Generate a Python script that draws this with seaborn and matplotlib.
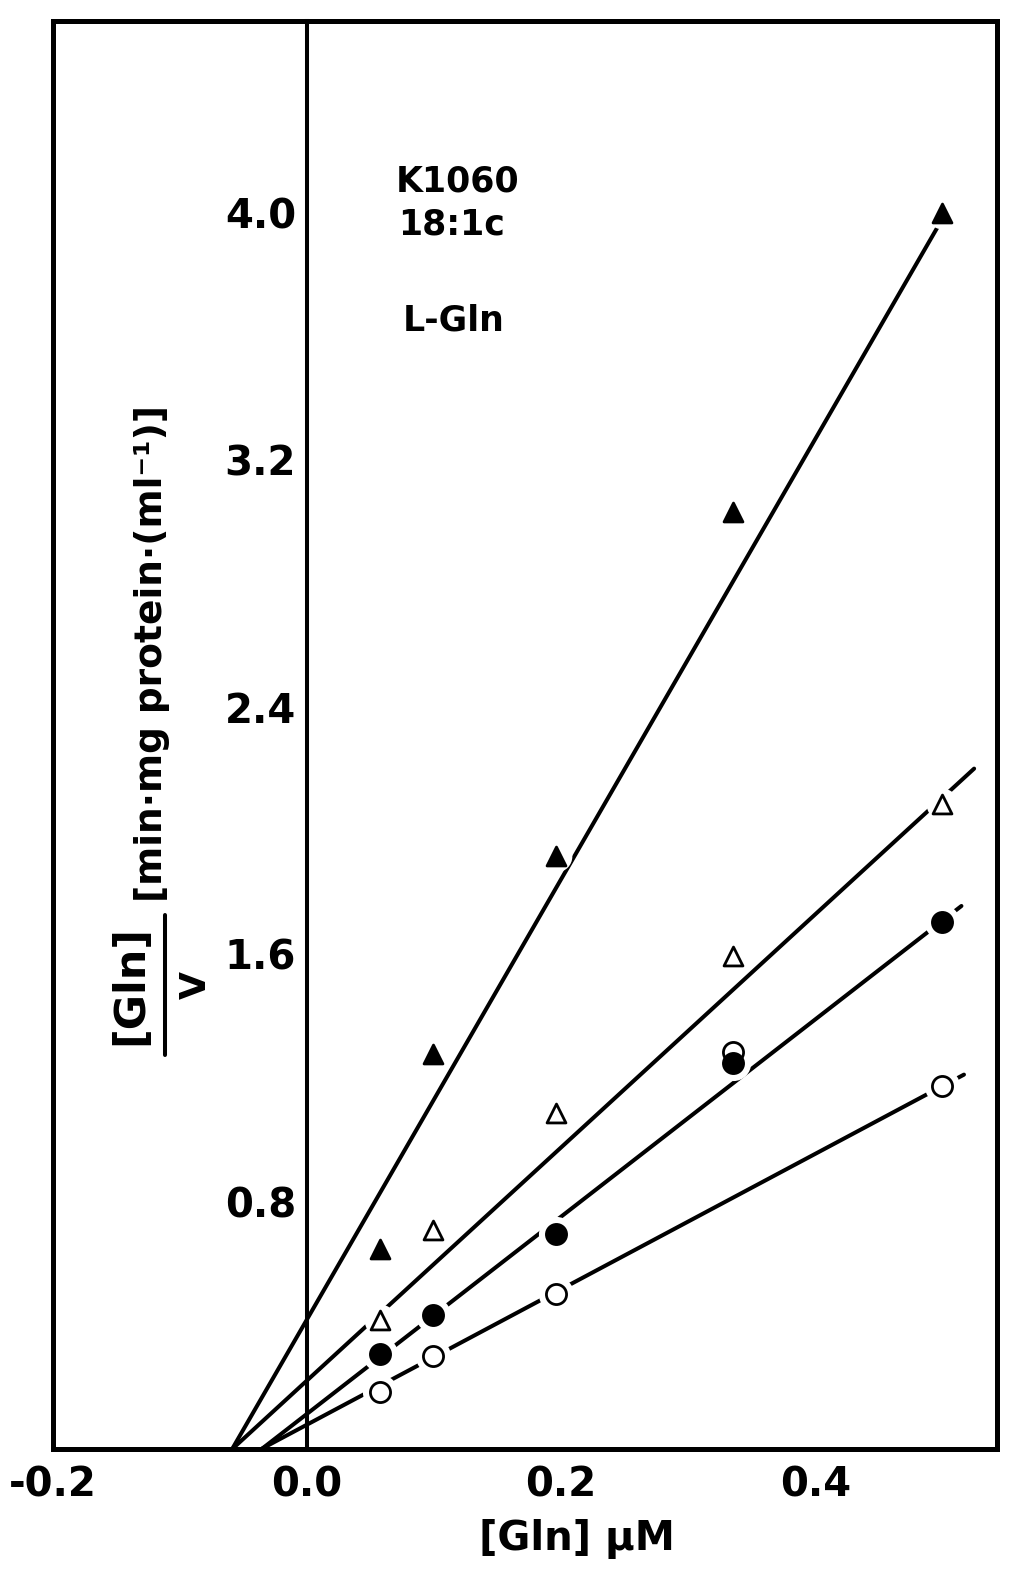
import matplotlib
matplotlib.use("Agg")
import matplotlib.pyplot as plt
from matplotlib.lines import Line2D
import numpy as np
import pandas as pd
import seaborn as sns

# Glutamine concentration (uM) of the five uptake assays
gln = [0.057, 0.099, 0.196, 0.335, 0.500]

# [Gln]/v for the four series
v_filled_tri = [0.647, 1.277, 1.92, 3.03, 4.00]
v_open_tri = [0.416, 0.707, 1.087, 1.595, 2.088]
v_filled_circ = [0.306, 0.432, 0.695, 1.249, 1.706]
v_open_circ = [0.186, 0.302, 0.500, 1.285, 1.175]

# Hanes-Woolf regression lines: slope, intercept and right-hand end
fit_slope = [7.12, 3.77, 3.19, 2.19]
fit_intercept = [0.42, 0.222, 0.114, 0.079]
fit_x_end = [0.505, 0.525, 0.515, 0.517]

series = ["filled_tri", "open_tri", "filled_circ", "open_circ"]
values = [v_filled_tri, v_open_tri, v_filled_circ, v_open_circ]

x_ticks = [-0.2, 0.0, 0.2, 0.4]
x_tick_labels = ["-0.2", "0.0", "0.2", "0.4"]
y_ticks = [0.8, 1.6, 2.4, 3.2, 4.0]
y_tick_labels = ["0.8", "1.6", "2.4", "3.2", "4.0"]

points = pd.DataFrame({
    "series": np.repeat(series, len(gln)),
    "gln": np.tile(gln, len(series)),
    "ratio": np.concatenate(values),
})

fit_rows = []
for name, m, b, xe in zip(series, fit_slope, fit_intercept, fit_x_end):
    x0 = -b / m
    fit_rows.append({"series": name, "gln": x0, "ratio": m * x0 + b})
    fit_rows.append({"series": name, "gln": xe, "ratio": m * xe + b})
fits = pd.DataFrame(fit_rows)

sns.set_theme(style="white")
plt.rcParams["font.family"] = ["DejaVu Sans"]
plt.rcParams["font.weight"] = "bold"
plt.rcParams["text.color"] = "black"
plt.rcParams["axes.labelcolor"] = "black"
plt.rcParams["xtick.color"] = "black"
plt.rcParams["ytick.color"] = "black"

W, H = 1023, 1576
fig = plt.figure(figsize=(W / 100, H / 100), dpi=100)
ax = fig.add_axes([53 / W, (H - 1449) / H, 944 / W, 1428 / H])

# regression lines
sns.lineplot(data=fits, x="gln", y="ratio", units="series", estimator=None,
             color="black", linewidth=2.9, ax=ax, zorder=2, legend=False)

# white halos break the lines around each symbol
tri_mask = points["series"].isin(["filled_tri", "open_tri"])
sns.scatterplot(data=points[tri_mask], x="gln", y="ratio", marker="o", s=520,
                color="white", linewidth=0, ax=ax, zorder=3, legend=False)
sns.scatterplot(data=points[~tri_mask], x="gln", y="ratio", marker="o", s=640,
                color="white", linewidth=0, ax=ax, zorder=3, legend=False)

style = {
    "open_circ": dict(marker="o", s=210, facecolor="white", zorder=4),
    "open_tri": dict(marker="^", s=185, facecolor="white", zorder=4),
    "filled_circ": dict(marker="o", s=210, facecolor="black", zorder=5),
    "filled_tri": dict(marker="^", s=185, facecolor="black", zorder=5),
}
for name in ["open_circ", "open_tri", "filled_circ", "filled_tri"]:
    st = style[name]
    sns.scatterplot(data=points[points["series"] == name], x="gln", y="ratio",
                    marker=st["marker"], s=st["s"], color=st["facecolor"],
                    edgecolor="black", linewidth=2.0, ax=ax,
                    zorder=st["zorder"], legend=False)

ax.set_xlim(-0.2, 0.543)
ax.set_ylim(0, 4.62)

# ordinate drawn through x = 0, frame around the plot
ax.spines["left"].set_position(("data", 0))
ax.spines["left"].set_linewidth(2.9)
for side in ["top", "right", "bottom"]:
    ax.spines[side].set_linewidth(3.6)
    ax.spines[side].set_color("black")
ax.spines["left"].set_color("black")
ax.plot([0, 0], [0, 1], transform=ax.transAxes, color="black",
        linewidth=3.6, clip_on=False, solid_capstyle="projecting")

ax.set_xticks(x_ticks)
ax.set_xticklabels(x_tick_labels)
ax.set_yticks(y_ticks)
ax.set_yticklabels(y_tick_labels)
ax.tick_params(axis="x", direction="in", length=11, width=2.2, pad=12,
               labelsize=29, colors="black")
ax.tick_params(axis="y", direction="in", length=14, width=2.2, pad=8,
               labelsize=29, colors="black")
for lab in ax.get_xticklabels() + ax.get_yticklabels():
    lab.set_fontweight("bold")
ax.set_xlabel("")
ax.set_ylabel("")

# strain / substrate annotation
ax.text(0.070, 4.07, "K1060", fontsize=25, fontweight="bold", ha="left",
        va="baseline", color="black")
ax.text(0.072, 3.93, "18:1c", fontsize=25, fontweight="bold", ha="left",
        va="baseline", color="black")
ax.text(0.075, 3.62, "L-Gln", fontsize=25, fontweight="bold", ha="left",
        va="baseline", color="black")

# axis titles
fig.text(577 / W, (H - 1539) / H, "[Gln] μM", fontsize=29, fontweight="bold",
         ha="center", va="center", color="black")
fig.text(152 / W, (H - 653) / H, "[min·mg protein·(ml⁻¹)]", fontsize=27,
         fontweight="bold", rotation=90, ha="center", va="center", color="black")
fig.text(130 / W, (H - 985) / H, "[Gln]", fontsize=31, fontweight="bold",
         rotation=90, ha="center", va="center", color="black")
fig.text(196 / W, (H - 985) / H, "V", fontsize=26, fontweight="bold",
         rotation=90, ha="center", va="center", color="black")
fig.add_artist(Line2D([165 / W, 165 / W], [(H - 1055) / H, (H - 915) / H],
                      transform=fig.transFigure, color="black", linewidth=2.9))

fig.savefig("out.png", dpi=100, facecolor="white")
